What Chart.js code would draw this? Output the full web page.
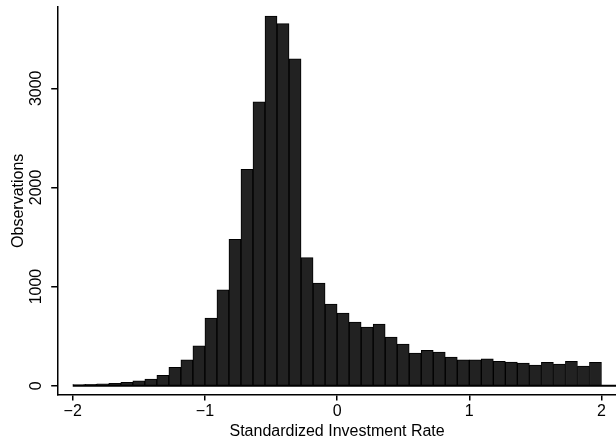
<!DOCTYPE html>
<html>
<head>
<meta charset="utf-8">
<script src="https://cdn.jsdelivr.net/npm/chart.js@4/dist/chart.umd.min.js"></script>
<style>
  html, body { margin: 0; padding: 0; background: #fff; }
  #wrap { width: 616px; height: 447px; }
</style>
</head>
<body>
<div id="wrap"><canvas id="histChart" width="616" height="447"></canvas></div>
<script>
// 44 bins of equal width between -2 and 2
const binStart = -2;
const binWidth = 4 / 44;
const observations = [
  10, 14, 18, 24, 34, 50, 67, 104, 184, 262, 403, 682, 967, 1477, 2182,
  2863, 3729, 3653, 3296, 1292, 1034, 823, 732, 641, 591, 621, 490, 420,
  329, 356, 339, 289, 262, 262, 272, 245, 238, 228, 208, 235, 218, 245, 198, 235
];
const baseline = [{ x: -2, y: 0 }, { x: 2.11, y: 0 }];
const xTicks = [-2, -1, 0, 1, 2];
const yTicks = [0, 1000, 2000, 3000];

const bins = observations.map((v, i) => ({ x: binStart + binWidth * (i + 0.5), y: v }));

const fontFamily = "'Liberation Sans', Arial, Helvetica, sans-serif";

// y tick labels are rotated and centred on the tick, so draw them here
const rotatedYLabels = {
  id: "rotatedYLabels",
  afterDraw(chart) {
    const { ctx, scales: { y } } = chart;
    ctx.save();
    ctx.fillStyle = "#000";
    ctx.font = "16px " + fontFamily;
    ctx.textAlign = "center";
    ctx.textBaseline = "middle";
    yTicks.forEach(v => {
      ctx.save();
      ctx.translate(37, y.getPixelForValue(v));
      ctx.rotate(-Math.PI / 2);
      ctx.fillText(String(v), 0, 0);
      ctx.restore();
    });
    ctx.restore();
  }
};

new Chart(document.getElementById("histChart"), {
  type: "bar",
  data: {
    datasets: [
      {
        type: "line",
        data: baseline,
        borderColor: "#000",
        borderWidth: 2,
        pointRadius: 0,
        order: 0
      },
      {
        data: bins,
        backgroundColor: "#222",
        borderColor: "#000",
        borderWidth: 1,
        barPercentage: 1,
        categoryPercentage: 1,
        order: 1
      }
    ]
  },
  options: {
    responsive: false,
    animation: false,
    layout: { padding: { top: 7, right: 0, left: 0, bottom: 0 } },
    plugins: { legend: { display: false }, tooltip: { enabled: false } },
    scales: {
      x: {
        type: "linear",
        offset: false,
        min: -2.11,
        max: 2.11,
        afterBuildTicks: (axis) => { axis.ticks = xTicks.map(v => ({ value: v })); },
        grid: { display: true, offset: false, drawOnChartArea: false, drawTicks: true, tickLength: 6, color: "#000", lineWidth: 1.5 },
        border: { display: true, color: "#000", width: 1.5 },
        ticks: {
          color: "#000",
          font: { family: fontFamily, size: 16 },
          padding: 1,
          maxRotation: 0,
          callback: (v) => (v < 0 ? "\u2212" + Math.abs(v) : String(v))
        },
        title: {
          display: true,
          text: "Standardized Investment Rate",
          color: "#000",
          font: { family: fontFamily, size: 16 },
          padding: { top: 0, bottom: 6 }
        }
      },
      y: {
        min: -90,
        max: 3820,
        afterBuildTicks: (axis) => { axis.ticks = yTicks.map(v => ({ value: v })); },
        grid: { display: true, drawOnChartArea: false, drawTicks: true, tickLength: 7, color: "#000", lineWidth: 1.5 },
        border: { display: true, color: "#000", width: 1.5 },
        ticks: { display: false },
        title: {
          display: true,
          text: "Observations",
          color: "#000",
          font: { family: fontFamily, size: 16 },
          padding: { top: 9, bottom: 23 }
        }
      }
    }
  },
  plugins: [rotatedYLabels]
});
</script>
</body>
</html>
